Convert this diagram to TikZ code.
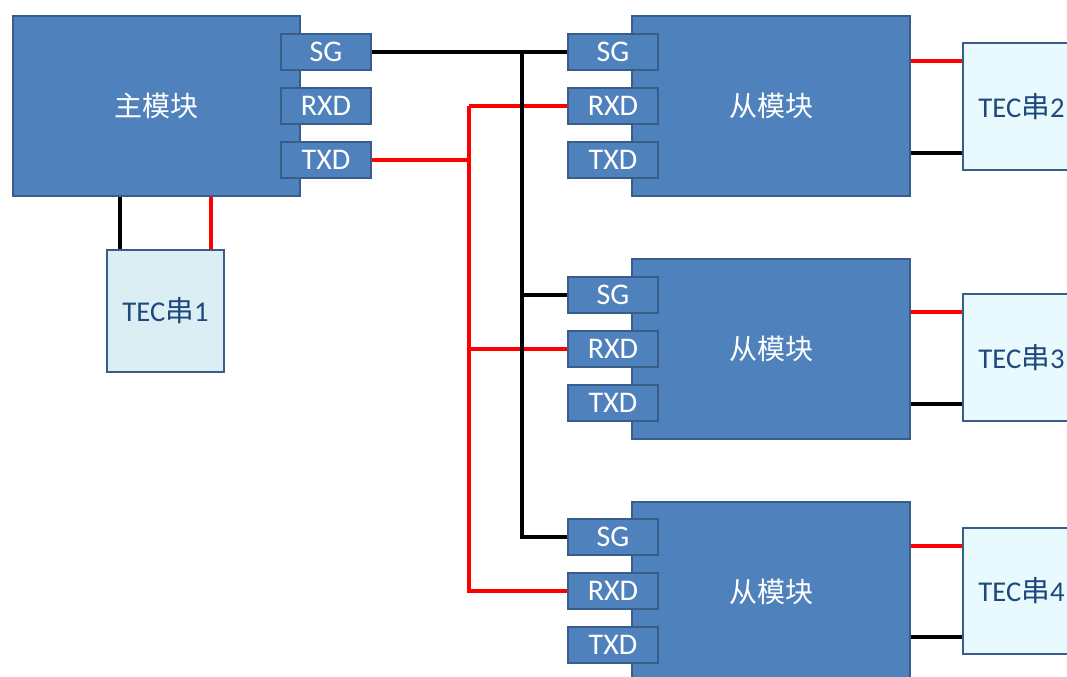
\documentclass[tikz,border=0pt]{standalone}
\usepackage{fontspec}
\setmainfont{Carlito}
\newfontfamily\cjk{Noto Sans CJK SC}
\definecolor{mod}{HTML}{4F81BD}
\definecolor{modb}{HTML}{385D8A}
\definecolor{tecA}{HTML}{DAEEF3}
\definecolor{tecB}{HTML}{E8FAFD}
\definecolor{tect}{HTML}{1F497D}
\begin{document}
\begin{tikzpicture}[x=0.75pt,y=-0.75pt]
\tikzset{
  modbox/.style={draw=modb, fill=mod, line width=1.5pt, inner sep=0pt, anchor=north west,
    minimum width={287*0.75pt}, minimum height={180*0.75pt}, text=white,
    font=\cjk\fontsize{21}{24}\selectfont},
  slavebox/.style={modbox, minimum width={278*0.75pt}},
  port/.style={draw=modb, fill=mod, line width=1.5pt, inner sep=0pt,
    minimum width={90*0.75pt}, minimum height={36*0.75pt}, text=white,
    font=\fontsize{22.5}{24}\selectfont},
  tecbox/.style={draw=modb, line width=1.5pt, inner sep=0pt, anchor=north west,
    minimum width={117*0.75pt}, minimum height={127*0.75pt}, text=tect,
    font=\fontsize{21.5}{24}\selectfont},
  wire/.style={line width=2.4pt, black},
  rwire/.style={line width=3pt, red}
}
\clip (0,0) rectangle (1067,676);
\fill[white] (0,0) rectangle (1067,676);

% master module
\node[modbox] (m) at (12,15) {主模块};
\node[port] (mSG) at (326,52) {SG};
\node[port] (mRXD) at (326,106) {RXD};
\node[port] (mTXD) at (326,160) {TXD};

% slave modules
\node[slavebox] (s1) at (631,15) {从模块};
\node[slavebox] (s2) at (631,258) {从模块};
\node[slavebox] (s3) at (631,501) {从模块};
\node[port] (s1SG) at (613,52) {SG};
\node[port] (s1RXD) at (613,106) {RXD};
\node[port] (s1TXD) at (613,160) {TXD};
\node[port] (s2SG) at (613,295) {SG};
\node[port] (s2RXD) at (613,349) {RXD};
\node[port] (s2TXD) at (613,403) {TXD};
\node[port] (s3SG) at (613,537) {SG};
\node[port] (s3RXD) at (613,591) {RXD};
\node[port] (s3TXD) at (613,645) {TXD};

% TEC strings
\node[tecbox, fill=tecA, minimum height={122*0.75pt}] (t1) at (106,249) {TEC{\cjk 串}1};
\node[tecbox, fill=tecB] (t2) at (962,42) {TEC{\cjk 串}2};
\node[tecbox, fill=tecB] (t3) at (962,293) {TEC{\cjk 串}3};
\node[tecbox, fill=tecB, minimum height={126*0.75pt}] (t4) at (962,527) {TEC{\cjk 串}4};

% red TXD->RXD bus
\coordinate (jr) at (469,106);
\draw[rwire] (mTXD.east) -- (jr |- mTXD.east);
\draw[rwire] (jr) -- (s1RXD.west);
\draw[rwire] (jr |- s2RXD.west) -- (s2RXD.west);
\draw[rwire, line join=miter] (jr) |- (s3RXD.west);

% black SG bus
\coordinate (jb) at (522,52);
\draw[wire] (mSG.east) -- (s1SG.west);
\draw[wire] (jb |- s2SG.west) -- (s2SG.west);
\draw[wire, line join=miter] (jb) |- (s3SG.west);

% master to TEC1
\path (t1.north west) ++(14,0) coordinate (t1b);
\path (t1.north east) ++(-14,0) coordinate (t1r);
\draw[wire] (t1b) -- (t1b |- m.south);
\draw[rwire, line width=2.6pt] (t1r) -- (t1r |- m.south);

% slaves to TEC 2..4
\foreach \t/\s in {t2/s1, t3/s2, t4/s3}{
  \path (\t.north west) ++(0,19) coordinate (\t r);
  \path (\t.south west) ++(0,-18) coordinate (\t b);
  \draw[rwire] (\t r) -- (\t r -| \s.east);
  \draw[wire] (\t b) -- (\t b -| \s.east);
}
\end{tikzpicture}
\end{document}
